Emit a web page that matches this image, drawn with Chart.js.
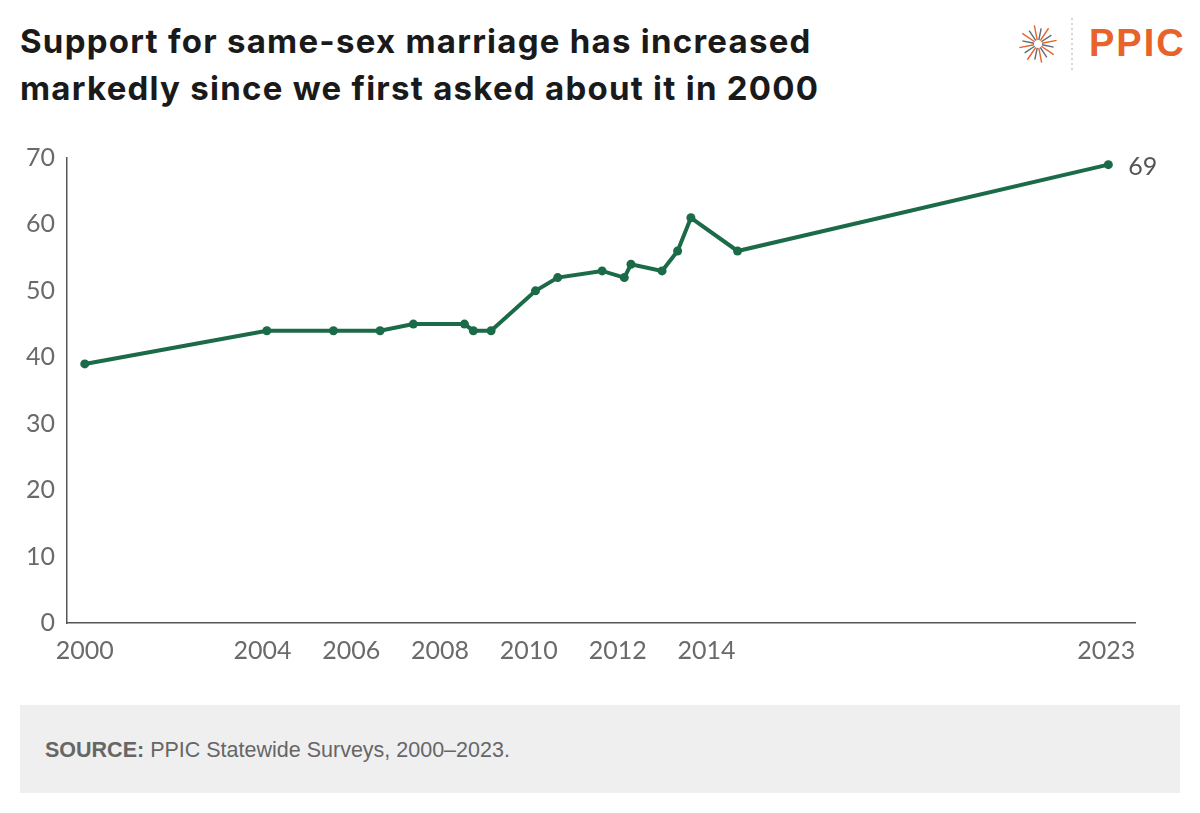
<!DOCTYPE html>
<html lang="en">
<head>
  <meta charset="UTF-8">
  <title>Support for same-sex marriage</title>
  <script src="https://cdn.jsdelivr.net/npm/chart.js"></script>
  <style>
    body { margin: 0; width: 1200px; height: 813px; background: #fff; position: relative; overflow: hidden; }
    h1 { position: absolute; left: 20px; top: 18px; margin: 0; font: 700 33px/47px Inter, "Liberation Sans", sans-serif; color: #1a1a1a; letter-spacing: 1.25px; }
    #logo { position: absolute; left: 1014px; top: 16px; }
    #ppic { position: absolute; left: 1089px; top: 24px; font: 700 38px/38px "Liberation Sans", Arial, sans-serif; color: #e8622a; letter-spacing: 2px; }
    #wrap { position: absolute; left: 0; top: 131px; width: 1200px; height: 552px; }
    #source { position: absolute; left: 20px; top: 705px; width: 1160px; height: 88px; background: #efeff0; }
    #source p { margin: 0; position: absolute; left: 25px; top: 33px; font: 21.5px "Liberation Sans", Arial, sans-serif; color: #666; }
  </style>
</head>
<body>
  <h1>Support for same-sex marriage has increased<br>markedly since we first asked about it in 2000</h1>
  <svg id="logo" width="70" height="56" viewBox="0 0 70 56"></svg>
  <div id="ppic">PPIC</div>
  <div id="wrap"><canvas id="chart"></canvas></div>
  <div id="source"><p><b>SOURCE:</b> PPIC Statewide Surveys, 2000–2023.</p></div>

  <script>
    // survey dates (decimal year) and share supporting same-sex marriage (%)
    const surveyDates = [2000.0, 2004.1, 2005.6, 2006.65, 2007.4, 2008.55, 2008.75, 2009.15,
                         2010.15, 2010.65, 2011.65, 2012.15, 2012.3, 2013.0, 2013.35, 2013.65,
                         2014.7, 2023.05];
    const support = [39, 44, 44, 44, 45, 45, 44, 44, 50, 52, 53, 52, 54, 53, 56, 61, 56, 69];
    const xTickYears = [2000, 2004, 2006, 2008, 2010, 2012, 2014, 2023];
    const yTicks = [0, 10, 20, 30, 40, 50, 60, 70];

    // logo starburst
    const svg = document.getElementById('logo');
    let s = '';
    for (let i = 0; i < 16; i++) {
      const a = i * Math.PI / 8 + 0.2;
      const col = i % 2 ? '#e8622a' : '#5b6b7b';
      const r1 = 4, r2 = i % 2 ? 19 : 16;
      s += `<line x1="${24 + r1 * Math.cos(a)}" y1="${28 + r1 * Math.sin(a)}" x2="${24 + r2 * Math.cos(a)}" y2="${28 + r2 * Math.sin(a)}" stroke="${col}" stroke-width="1.4"/>`;
    }
    s += '<line x1="58" y1="2" x2="58" y2="54" stroke="#bbb" stroke-width="1.2" stroke-dasharray="2,3"/>';
    svg.innerHTML = s;

    const green = '#1b6a48';
    const tickFont = { family: 'Lato, "Liberation Sans", sans-serif', size: 25, weight: 400 };

    const endLabel = {
      id: 'endLabel',
      afterDatasetsDraw(chart) {
        const meta = chart.getDatasetMeta(0);
        const p = meta.data[meta.data.length - 1];
        const c = chart.ctx;
        c.save();
        c.font = '400 25px Lato, "Liberation Sans", sans-serif';
        c.fillStyle = '#555';
        c.textBaseline = 'middle';
        c.fillText(String(support[support.length - 1]), p.x + 20, p.y + 2);
        c.restore();
      }
    };

    new Chart(document.getElementById('chart'), {
      type: 'line',
      data: {
        datasets: [{
          data: surveyDates.map((d, i) => ({ x: d, y: support[i] })),
          borderColor: green,
          backgroundColor: green,
          borderWidth: 4,
          pointRadius: 4.5,
          pointBorderWidth: 0,
          tension: 0
        }]
      },
      options: {
        responsive: true,
        maintainAspectRatio: false,
        animation: false,
        layout: { padding: { top: 18, right: 65, left: 0, bottom: 0 } },
        plugins: { legend: { display: false }, tooltip: { enabled: false } },
        scales: {
          x: {
            type: 'linear',
            min: 1999.6,
            max: 2023.65,
            afterBuildTicks: (sc) => { sc.ticks = xTickYears.map(v => ({ value: v })); },
            afterFit: (sc) => { sc.height = 60; },
            grid: { display: false, drawTicks: false },
            border: { color: '#555', width: 1.5 },
            ticks: { color: '#6a6a6a', font: tickFont, padding: 13, maxRotation: 0, autoSkip: false, callback: v => String(v) }
          },
          y: {
            min: 0,
            max: 70,
            afterBuildTicks: (sc) => { sc.ticks = yTicks.map(v => ({ value: v })); },
            afterFit: (sc) => { sc.width = 67; },
            grid: { display: false, drawTicks: false },
            border: { color: '#555', width: 1.5 },
            ticks: { color: '#6a6a6a', font: tickFont, padding: 12 }
          }
        }
      },
      plugins: [endLabel]
    });
  </script>
</body>
</html>
